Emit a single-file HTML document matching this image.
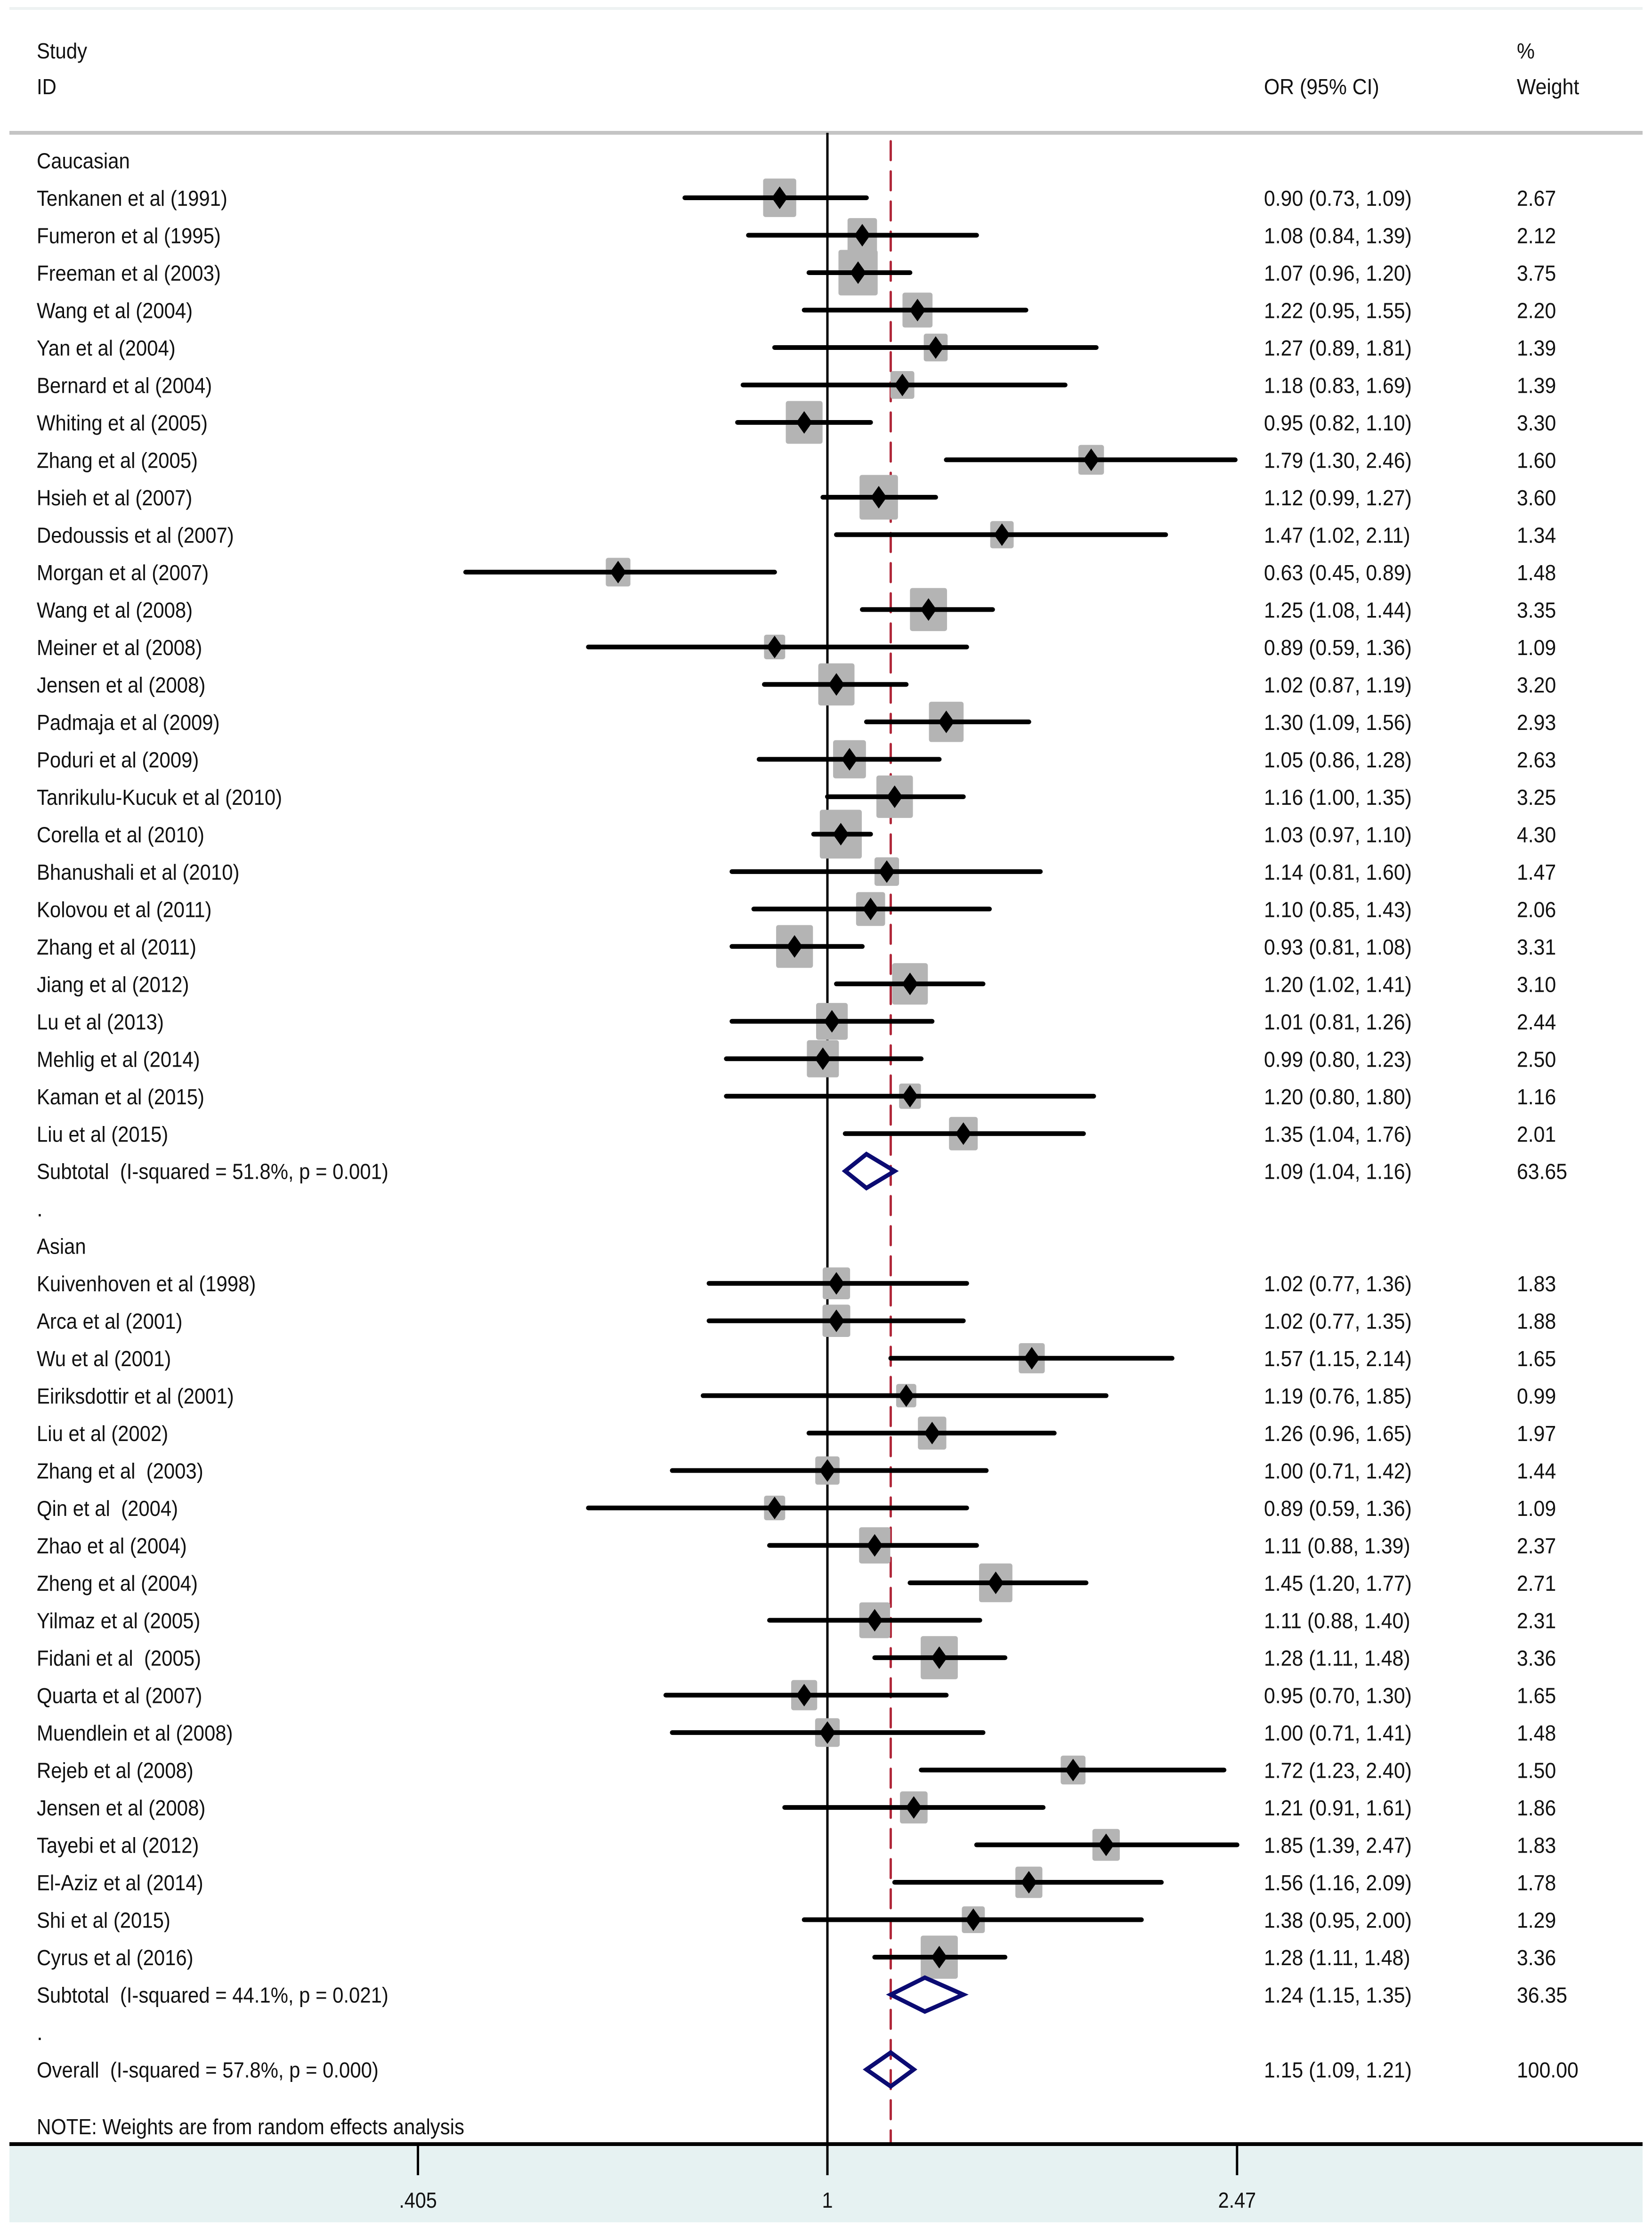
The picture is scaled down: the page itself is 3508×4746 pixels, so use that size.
<!DOCTYPE html>
<html><head><meta charset="utf-8"><style>
html,body{margin:0;padding:0;background:#fff;}
svg{display:block;}
text{font-family:"Liberation Sans",Arial,sans-serif;fill:#111;white-space:pre;}
</style></head><body>
<svg id="chart" width="3508" height="4746" viewBox="0 0 3508 4746" xmlns="http://www.w3.org/2000/svg">
<rect x="0" y="0" width="3508" height="4746" fill="#fff"/>
<line x1="20" y1="18" x2="3488" y2="18" stroke="#eef2f2" stroke-width="6"/>
<line x1="20" y1="282" x2="3488" y2="282" stroke="#c4c4c4" stroke-width="8"/>
<rect x="20" y="4553" width="3468" height="166" fill="#e6f2f2"/>
<g id="marks"></g>
<g id="labels"></g>
</svg>
<script>
const studies = ["Tenkanen et al (1991)","Fumeron et al (1995)","Freeman et al (2003)","Wang et al (2004)","Yan et al (2004)","Bernard et al (2004)","Whiting et al (2005)","Zhang et al (2005)","Hsieh et al (2007)","Dedoussis et al (2007)","Morgan et al (2007)","Wang et al (2008)","Meiner et al (2008)","Jensen et al (2008)","Padmaja et al (2009)","Poduri et al (2009)","Tanrikulu-Kucuk et al (2010)","Corella et al (2010)","Bhanushali et al (2010)","Kolovou et al (2011)","Zhang et al (2011)","Jiang et al (2012)","Lu et al (2013)","Mehlig et al (2014)","Kaman et al (2015)","Liu et al (2015)",
"Kuivenhoven et al (1998)","Arca et al (2001)","Wu et al (2001)","Eiriksdottir et al (2001)","Liu et al (2002)","Zhang et al  (2003)","Qin et al  (2004)","Zhao et al (2004)","Zheng et al (2004)","Yilmaz et al (2005)","Fidani et al  (2005)","Quarta et al (2007)","Muendlein et al (2008)","Rejeb et al (2008)","Jensen et al (2008)","Tayebi et al (2012)","El-Aziz et al (2014)","Shi et al (2015)","Cyrus et al (2016)"];
const groups = ["Caucasian","Caucasian","Caucasian","Caucasian","Caucasian","Caucasian","Caucasian","Caucasian","Caucasian","Caucasian","Caucasian","Caucasian","Caucasian","Caucasian","Caucasian","Caucasian","Caucasian","Caucasian","Caucasian","Caucasian","Caucasian","Caucasian","Caucasian","Caucasian","Caucasian","Caucasian","Asian","Asian","Asian","Asian","Asian","Asian","Asian","Asian","Asian","Asian","Asian","Asian","Asian","Asian","Asian","Asian","Asian","Asian","Asian"];
const orValues = [0.90,1.08,1.07,1.22,1.27,1.18,0.95,1.79,1.12,1.47,0.63,1.25,0.89,1.02,1.30,1.05,1.16,1.03,1.14,1.10,0.93,1.20,1.01,0.99,1.20,1.35,
1.02,1.02,1.57,1.19,1.26,1.00,0.89,1.11,1.45,1.11,1.28,0.95,1.00,1.72,1.21,1.85,1.56,1.38,1.28];
const lowerCI = [0.73,0.84,0.96,0.95,0.89,0.83,0.82,1.30,0.99,1.02,0.45,1.08,0.59,0.87,1.09,0.86,1.00,0.97,0.81,0.85,0.81,1.02,0.81,0.80,0.80,1.04,
0.77,0.77,1.15,0.76,0.96,0.71,0.59,0.88,1.20,0.88,1.11,0.70,0.71,1.23,0.91,1.39,1.16,0.95,1.11];
const upperCI = [1.09,1.39,1.20,1.55,1.81,1.69,1.10,2.46,1.27,2.11,0.89,1.44,1.36,1.19,1.56,1.28,1.35,1.10,1.60,1.43,1.08,1.41,1.26,1.23,1.80,1.76,
1.36,1.35,2.14,1.85,1.65,1.42,1.36,1.39,1.77,1.40,1.48,1.30,1.41,2.40,1.61,2.47,2.09,2.00,1.48];
const weights = [2.67,2.12,3.75,2.20,1.39,1.39,3.30,1.60,3.60,1.34,1.48,3.35,1.09,3.20,2.93,2.63,3.25,4.30,1.47,2.06,3.31,3.10,2.44,2.50,1.16,2.01,
1.83,1.88,1.65,0.99,1.97,1.44,1.09,2.37,2.71,2.31,3.36,1.65,1.48,1.50,1.86,1.83,1.78,1.29,3.36];
const pooledLabels = ["Subtotal  (I-squared = 51.8%, p = 0.001)","Subtotal  (I-squared = 44.1%, p = 0.021)","Overall  (I-squared = 57.8%, p = 0.000)"];
const pooledOR = [1.09,1.24,1.15];
const pooledLo = [1.04,1.15,1.09];
const pooledHi = [1.16,1.35,1.21];
const pooledWeight = ["63.65","36.35","100.00"];
const tickValues = [0.405,1,2.47];
const tickLabels = [".405","1","2.47"];

const NS="http://www.w3.org/2000/svg";
const X0=1757, K=962, ROW0=420, STEP=79.49;
const NAME_SX=0.91, NUM_SX=0.93;
function xScale(v){return X0+K*Math.log(v);}
function yRow(i){return ROW0+STEP*i;}
const marks=document.getElementById('marks');
const labels=document.getElementById('labels');
function mk(tag,attrs,parent){const e=document.createElementNS(NS,tag);for(const k in attrs)e.setAttribute(k,attrs[k]);parent.appendChild(e);return e;}
function txt(s,x,y,sx,parent,anchor){const t=mk('text',{x:0,y:0,'font-size':46,transform:`translate(${x},${y}) scale(${sx},1)`},parent);if(anchor)t.setAttribute('text-anchor',anchor);t.textContent=s;return t;}

let t;
t=txt("Study",78,124,NAME_SX,labels);


t=txt("ID",78,200,NAME_SX,labels);


t=txt("OR (95% CI)",2684,200,NUM_SX,labels);


t=txt("%",3221,124,NUM_SX,labels);


t=txt("Weight",3221,200,NUM_SX,labels);



let ln=mk('line',{x1:X0,y1:282,x2:X0,y2:4619,stroke:'#000','stroke-width':5},marks);


ln=mk('line',{x1:xScale(pooledOR[2]),y1:300,x2:xScale(pooledOR[2]),y2:4553,stroke:'#b0283a','stroke-width':5,'stroke-dasharray':'40 24','stroke-linecap':'round'},marks);



let row=-2, prevGroup=null, pooledIdx=0;
function pooledRow(p,r){
  const y=yRow(r), xl=xScale(pooledLo[p]), xh=xScale(pooledHi[p]), xm=xScale(pooledOR[p]);
  const d=mk('polygon',{points:`${xl},${y} ${xm},${y-36} ${xh},${y} ${xm},${y+36}`,fill:'none',stroke:'#0b0b72','stroke-width':9,'stroke-linejoin':'miter'},marks);
  
  
  let a=txt(pooledLabels[p],78,y+17,NAME_SX,labels);
  
  
  a=txt(`${pooledOR[p].toFixed(2)} (${pooledLo[p].toFixed(2)}, ${pooledHi[p].toFixed(2)})`,2684,y+17,NUM_SX,labels);
  
  
  a=txt(pooledWeight[p],3221,y+17,NUM_SX,labels);
  
  
}
for(let i=0;i<studies.length;i++){
  if(groups[i]!==prevGroup){
    if(prevGroup!==null){row++;pooledRow(pooledIdx++,row);row++;
      const dt=txt(".",78,yRow(row)+17,1,labels);
      
      
    }
    row++;
    const g=txt(groups[i],78,yRow(row)+17,NAME_SX,labels);
    
    
    prevGroup=groups[i];
  }
  row++;
  const y=yRow(row), s=Math.sqrt(weights[i]), bw=43*s, bh=50*s, xm=xScale(orValues[i]);
  const b=mk('rect',{x:xm-bw/2,y:y-bh/2,width:bw,height:bh,rx:5,fill:'#b4b4b4'},marks);
  
  
  const c=mk('line',{x1:xScale(lowerCI[i]),y1:y,x2:xScale(upperCI[i]),y2:y,stroke:'#000','stroke-width':10,'stroke-linecap':'round'},marks);
  
  
  const d=mk('polygon',{points:`${xm-17},${y} ${xm},${y-24} ${xm+17},${y} ${xm},${y+24}`,fill:'#000'},marks);
  
  
  let a=txt(studies[i],78,y+17,NAME_SX,labels);
  
  
  a=txt(`${orValues[i].toFixed(2)} (${lowerCI[i].toFixed(2)}, ${upperCI[i].toFixed(2)})`,2684,y+17,NUM_SX,labels);
  
  
  a=txt(weights[i].toFixed(2),3221,y+17,NUM_SX,labels);
  
  
}
row++;pooledRow(pooledIdx++,row);
row++;
let dt=txt(".",78,yRow(row)+17,1,labels);


row++;pooledRow(pooledIdx++,row);
let note=txt("NOTE: Weights are from random effects analysis",78,4532,NAME_SX,labels);



let ax=mk('line',{x1:20,y1:4553,x2:3488,y2:4553,stroke:'#000','stroke-width':8},marks);


for(let i=0;i<tickValues.length;i++){
  const x=xScale(tickValues[i]);
  const tk=mk('line',{x1:x,y1:4553,x2:x,y2:4619,stroke:'#000','stroke-width':5},marks);
  
  
  const tl=txt(tickLabels[i],x,4688,0.9,labels,'middle');
  
  
}
</script>
</body></html>
